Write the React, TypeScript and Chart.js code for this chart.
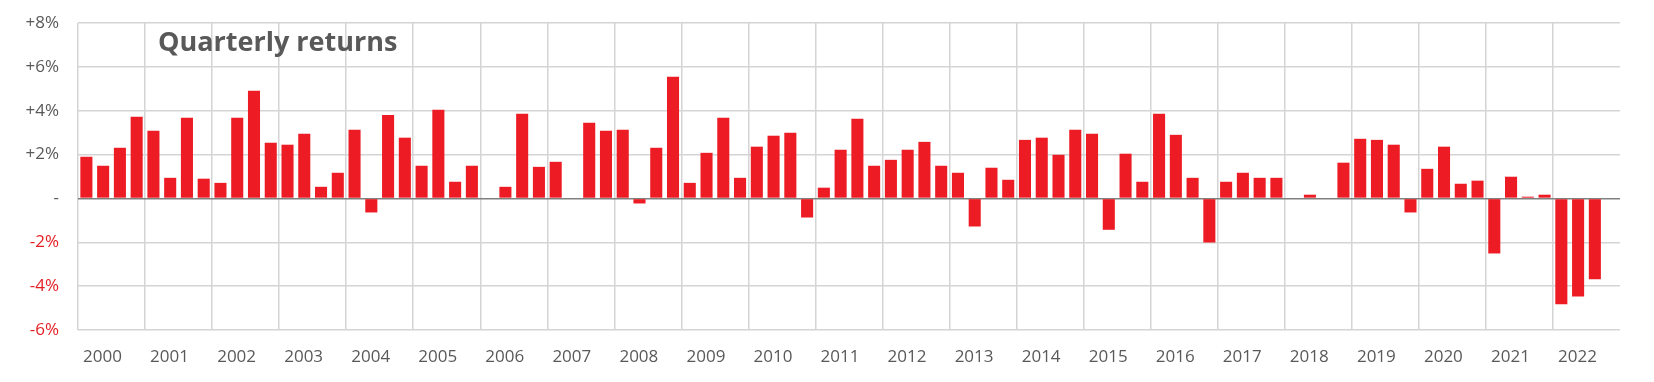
import React, { useEffect, useRef } from "react";
import { Chart, registerables } from "chart.js";

Chart.register(...registerables);

const years = ["2000","2001","2002","2003","2004","2005","2006","2007","2008","2009","2010","2011","2012","2013","2014","2015","2016","2017","2018","2019","2020","2021","2022"];
const quarters = ["Q1", "Q2", "Q3", "Q4"];

const returns2000_2005 = [
  1.90, 1.49, 2.31, 3.72,
  3.09, 0.94, 3.68, 0.90,
  0.71, 3.68, 4.91, 2.54,
  2.45, 2.95, 0.53, 1.17,
  3.13, -0.64, 3.81, 2.77,
  1.49, 4.04, 0.76, 1.49,
];
const returns2006_2011 = [
  0, 0.53, 3.86, 1.44,
  1.67, 0, 3.45, 3.09,
  3.13, -0.23, 2.31, 5.55,
  0.71, 2.08, 3.68, 0.94,
  2.36, 2.86, 2.99, -0.87,
  0.49, 2.22, 3.63, 1.49,
];
const returns2012_2017 = [
  1.76, 2.22, 2.58, 1.49,
  1.17, -1.28, 1.40, 0.85,
  2.67, 2.77, 1.99, 3.13,
  2.95, -1.43, 2.04, 0.76,
  3.86, 2.90, 0.94, -2.01,
  0.76, 1.17, 0.94, 0.94,
];
const returns2018_2022 = [
  0, 0.17, 0, 1.63,
  2.72, 2.67, 2.45, -0.64,
  1.35, 2.36, 0.67, 0.81,
  -2.51, 0.99, 0.08, 0.17,
  -4.83, -4.47, -3.69, null,
];

const title = "Quarterly returns";
const FONT = "'Open Sans', 'Noto Sans', sans-serif";
const GRAY = "#595959";
const RED = "#ED1C24";

export default function App() {
  const ref = useRef<HTMLCanvasElement>(null);
  useEffect(() => {
    if (!ref.current) return;
    const values = [...returns2000_2005, ...returns2006_2011, ...returns2012_2017, ...returns2018_2022];
    const labels: string[] = [];
    years.forEach((y) => quarters.forEach((q) => labels.push(y + " " + q)));

    const titlePlugin = {
      id: "innerTitle",
      afterDraw(chart: any) {
        const { ctx, chartArea } = chart;
        ctx.save();
        ctx.font = `bold 27px ${FONT}`;
        ctx.fillStyle = GRAY;
        ctx.textBaseline = "alphabetic";
        ctx.textAlign = "left";
        ctx.fillText(title, chartArea.left + 80, chartArea.top + 28);
        ctx.restore();
      },
    };

    const chart = new Chart(ref.current, {
      type: "bar",
      data: {
        labels,
        datasets: [
          {
            data: values,
            backgroundColor: RED,
            borderWidth: 0,
            categoryPercentage: 1,
            barPercentage: 0.72,
          },
        ],
      },
      plugins: [titlePlugin],
      options: {
        animation: false,
        responsive: true,
        maintainAspectRatio: false,
        layout: { padding: { left: 0, right: 26, top: 15, bottom: 0 } },
        plugins: { legend: { display: false }, tooltip: { enabled: false } },
        scales: {
          x: {
            type: "category",
            position: "bottom",
            offset: true,
            grid: {
              offset: true,
              drawTicks: false,
              lineWidth: 1.5,
              color: (c: any) => (c.index % 4 === 0 ? "#d4d4d4" : "rgba(0,0,0,0)"),
            },
            border: { display: false },
            ticks: { display: false },
            afterFit: (s: any) => { s.height = 0; },
          },
          xYear: {
            type: "category",
            position: "bottom",
            labels: years,
            offset: true,
            grid: { display: false, drawTicks: false },
            border: { display: false },
            ticks: {
              color: GRAY,
              font: { family: FONT, size: 17 },
              padding: 17,
              labelOffset: -9,
              maxRotation: 0,
              autoSkip: false,
            },
            afterFit: (s: any) => { s.height = 44; },
          },
          y: {
            min: -6,
            max: 8,
            grid: {
              drawTicks: true,
              tickLength: 19,
              tickColor: "rgba(0,0,0,0)",
              lineWidth: 1.5,
              color: (c: any) => (c.tick && c.tick.value === 0 ? "#808080" : "#d4d4d4"),
            },
            border: { display: false },
            ticks: {
              stepSize: 2,
              padding: 0,
              font: { family: FONT, size: 17 },
              color: (c: any) => (c.tick && c.tick.value < 0 ? "#E31E24" : GRAY),
              callback: (v: any) => (v > 0 ? "+" + v + "%" : v === 0 ? "-" : v + "%"),
            },
            afterFit: (s: any) => { s.width = 70; },
          },
        },
      },
    });
    return () => chart.destroy();
  }, []);

  return (
    <div style={{ position: "relative", height: "366px", width: "100%" }}>
      <canvas ref={ref} />
    </div>
  );
}
